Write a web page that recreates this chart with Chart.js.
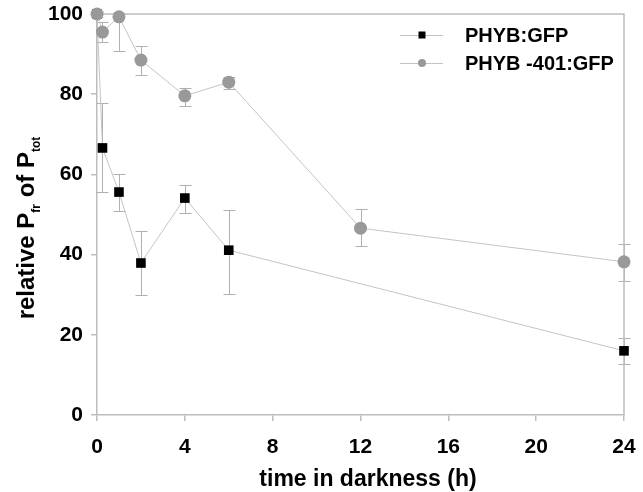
<!DOCTYPE html>
<html>
<head>
<meta charset="utf-8">
<script src="https://cdn.jsdelivr.net/npm/chart.js@4/dist/chart.umd.min.js"></script>
<style>
  html, body { margin: 0; padding: 0; background: #fff; }
  #wrap { width: 643px; height: 492px; position: relative; }
</style>
</head>
<body>
<div id="wrap"><canvas id="chart" width="643" height="492"></canvas></div>
<script>
// time points (h)
const timesWt = [0, 0.25, 1, 2, 4, 6, 24];
const timesMut = [0, 0.25, 1, 2, 4, 6, 12, 24];

// PHYB:GFP
const wtValues = [100, 66.6, 55.6, 37.9, 54.1, 41.1, 16.0];
const wtErrUp = [0, 11.2, 4.5, 8.0, 3.3, 10.0, 3.2];
const wtErrDown = [0, 11.0, 4.7, 8.0, 3.7, 10.9, 3.3];

// PHYB-401:GFP
const mutValues = [100, 95.5, 99.3, 88.5, 79.6, 83.0, 46.6, 38.2];
const mutErrUp = [0.8, 2.5, 0.8, 3.5, 2.0, 1.4, 4.8, 4.4];
const mutErrDown = [0.8, 2.5, 8.5, 3.7, 2.6, 1.7, 4.5, 4.8];

const xTicks = [0, 4, 8, 12, 16, 20, 24];
const yTicks = [0, 20, 40, 60, 80, 100];

const seriesNames = ['PHYB:GFP', 'PHYB -401:GFP'];

const lineGrey = '#c4c4c4';
const axisGrey = '#bdbdbd';
const fontFamily = '"Liberation Sans", Arial, Helvetica, sans-serif';

function toPoints(xs, ys) {
    return xs.map((x, i) => ({ x: x, y: ys[i] }));
}

const errorBarPlugin = {
    id: 'errorBars',
    beforeDatasetsDraw(chart) {
        const ctx = chart.ctx;
        const xs = chart.scales.x;
        const ys = chart.scales.y;
        const sets = [
            [timesWt, wtValues, wtErrUp, wtErrDown],
            [timesMut, mutValues, mutErrUp, mutErrDown]
        ];
        ctx.save();
        ctx.strokeStyle = '#b0b0b0';
        ctx.lineWidth = 1;
        sets.forEach(([t, v, up, down]) => {
            t.forEach((time, i) => {
                const px = Math.round(xs.getPixelForValue(time)) + 0.5;
                const top = ys.getPixelForValue(v[i] + up[i]);
                const bottom = ys.getPixelForValue(v[i] - down[i]);
                ctx.beginPath();
                ctx.moveTo(px, top);
                ctx.lineTo(px, bottom);
                ctx.moveTo(px - 6, Math.round(top) + 0.5);
                ctx.lineTo(px + 6, Math.round(top) + 0.5);
                ctx.moveTo(px - 6, Math.round(bottom) + 0.5);
                ctx.lineTo(px + 6, Math.round(bottom) + 0.5);
                ctx.stroke();
            });
        });
        ctx.restore();
    }
};

const framePlugin = {
    id: 'frame',
    beforeDatasetsDraw(chart) {
        const ctx = chart.ctx;
        const a = chart.chartArea;
        ctx.save();
        ctx.strokeStyle = axisGrey;
        ctx.lineWidth = 1.5;
        ctx.beginPath();
        ctx.moveTo(a.left, a.top);
        ctx.lineTo(a.right, a.top);
        ctx.lineTo(a.right, a.bottom);
        ctx.stroke();
        ctx.restore();
    }
};

const titlesPlugin = {
    id: 'titles',
    afterDraw(chart) {
        const ctx = chart.ctx;
        ctx.save();
        ctx.fillStyle = '#000';
        // x title
        ctx.font = 'bold 23px ' + fontFamily;
        ctx.textAlign = 'center';
        ctx.textBaseline = 'alphabetic';
        ctx.fillText('time in darkness (h)', 368, 486);

        // y title with subscripts
        const parts = [
            { t: 'relative P', sub: false },
            { t: 'fr', sub: true },
            { t: ' of P', sub: false },
            { t: 'tot', sub: true }
        ];
        const mainFont = 'bold 24px ' + fontFamily;
        const subFont = 'bold 12px ' + fontFamily;
        let total = 0;
        parts.forEach(p => {
            ctx.font = p.sub ? subFont : mainFont;
            p.w = ctx.measureText(p.t).width;
            total += p.w;
        });
        ctx.translate(34, 228);
        ctx.rotate(-Math.PI / 2);
        ctx.textAlign = 'left';
        let cx = -total / 2;
        parts.forEach(p => {
            ctx.font = p.sub ? subFont : mainFont;
            ctx.fillText(p.t, cx, p.sub ? 6 : 0);
            cx += p.w;
        });
        ctx.restore();

        // legend
        ctx.save();
        const legendRows = [
            { y: 35, style: 'rect', fill: '#000', r: 3.5 },
            { y: 63, style: 'circle', fill: '#999', r: 4 }
        ];
        legendRows.forEach((row, i) => {
            ctx.strokeStyle = lineGrey;
            ctx.lineWidth = 1;
            ctx.beginPath();
            ctx.moveTo(400, row.y + 0.5);
            ctx.lineTo(443, row.y + 0.5);
            ctx.stroke();
            ctx.fillStyle = row.fill;
            if (row.style === 'rect') {
                ctx.fillRect(422 - row.r, row.y - row.r, row.r * 2, row.r * 2);
            } else {
                ctx.beginPath();
                ctx.arc(422, row.y, row.r, 0, Math.PI * 2);
                ctx.fill();
            }
            ctx.fillStyle = '#000';
            ctx.font = 'bold 20px ' + fontFamily;
            ctx.textAlign = 'left';
            ctx.textBaseline = 'middle';
            ctx.fillText(seriesNames[i], 465, row.y + 1);
        });
        ctx.restore();
    }
};

const ctx = document.getElementById('chart').getContext('2d');
const chart = new Chart(ctx, {
    type: 'line',
    data: {
        datasets: [{
            label: seriesNames[1],
            data: toPoints(timesMut, mutValues),
            borderColor: lineGrey,
            borderWidth: 1,
            backgroundColor: '#999',
            pointBackgroundColor: '#999999',
            pointBorderColor: '#999999',
            pointBorderWidth: 0,
            pointStyle: 'circle',
            pointRadius: 6.5,
            tension: 0,
            clip: false
        }, {
            label: seriesNames[0],
            data: toPoints(timesWt, wtValues),
            borderColor: lineGrey,
            borderWidth: 1,
            backgroundColor: '#000',
            pointBackgroundColor: '#000',
            pointBorderColor: '#000',
            pointBorderWidth: 0,
            pointStyle: 'rect',
            pointRadius: 6.8,
            tension: 0,
            clip: false
        }]
    },
    options: {
        responsive: false,
        animation: false,
        layout: { padding: { left: 0, right: 19, top: 14, bottom: 0 } },
        plugins: {
            legend: { display: false },
            tooltip: { enabled: false }
        },
        scales: {
            x: {
                type: 'linear',
                min: 0,
                max: 24,
                afterBuildTicks(scale) {
                    scale.ticks = xTicks.map(v => ({ value: v }));
                },
                afterFit(scale) { scale.height = 77; },
                grid: {
                    drawOnChartArea: false,
                    drawTicks: true,
                    tickLength: 6,
                    color: axisGrey,
                    lineWidth: 1.5
                },
                border: { color: axisGrey, width: 1.5 },
                ticks: {
                    color: '#000',
                    padding: 4,
                    maxRotation: 0,
                    font: { family: fontFamily, size: 21, weight: 'bold', lineHeight: 2.1 }
                }
            },
            y: {
                min: 0,
                max: 100,
                afterBuildTicks(scale) {
                    scale.ticks = yTicks.map(v => ({ value: v }));
                },
                afterFit(scale) { scale.width = 97; },
                grid: {
                    drawOnChartArea: false,
                    drawTicks: true,
                    tickLength: 6,
                    color: axisGrey,
                    lineWidth: 1.5
                },
                border: { color: axisGrey, width: 1.5 },
                ticks: {
                    color: '#000',
                    padding: 8,
                    font: { family: fontFamily, size: 21, weight: 'bold', lineHeight: 0.3 }
                }
            }
        }
    },
    plugins: [errorBarPlugin, framePlugin, titlesPlugin]
});
</script>
</body>
</html>
